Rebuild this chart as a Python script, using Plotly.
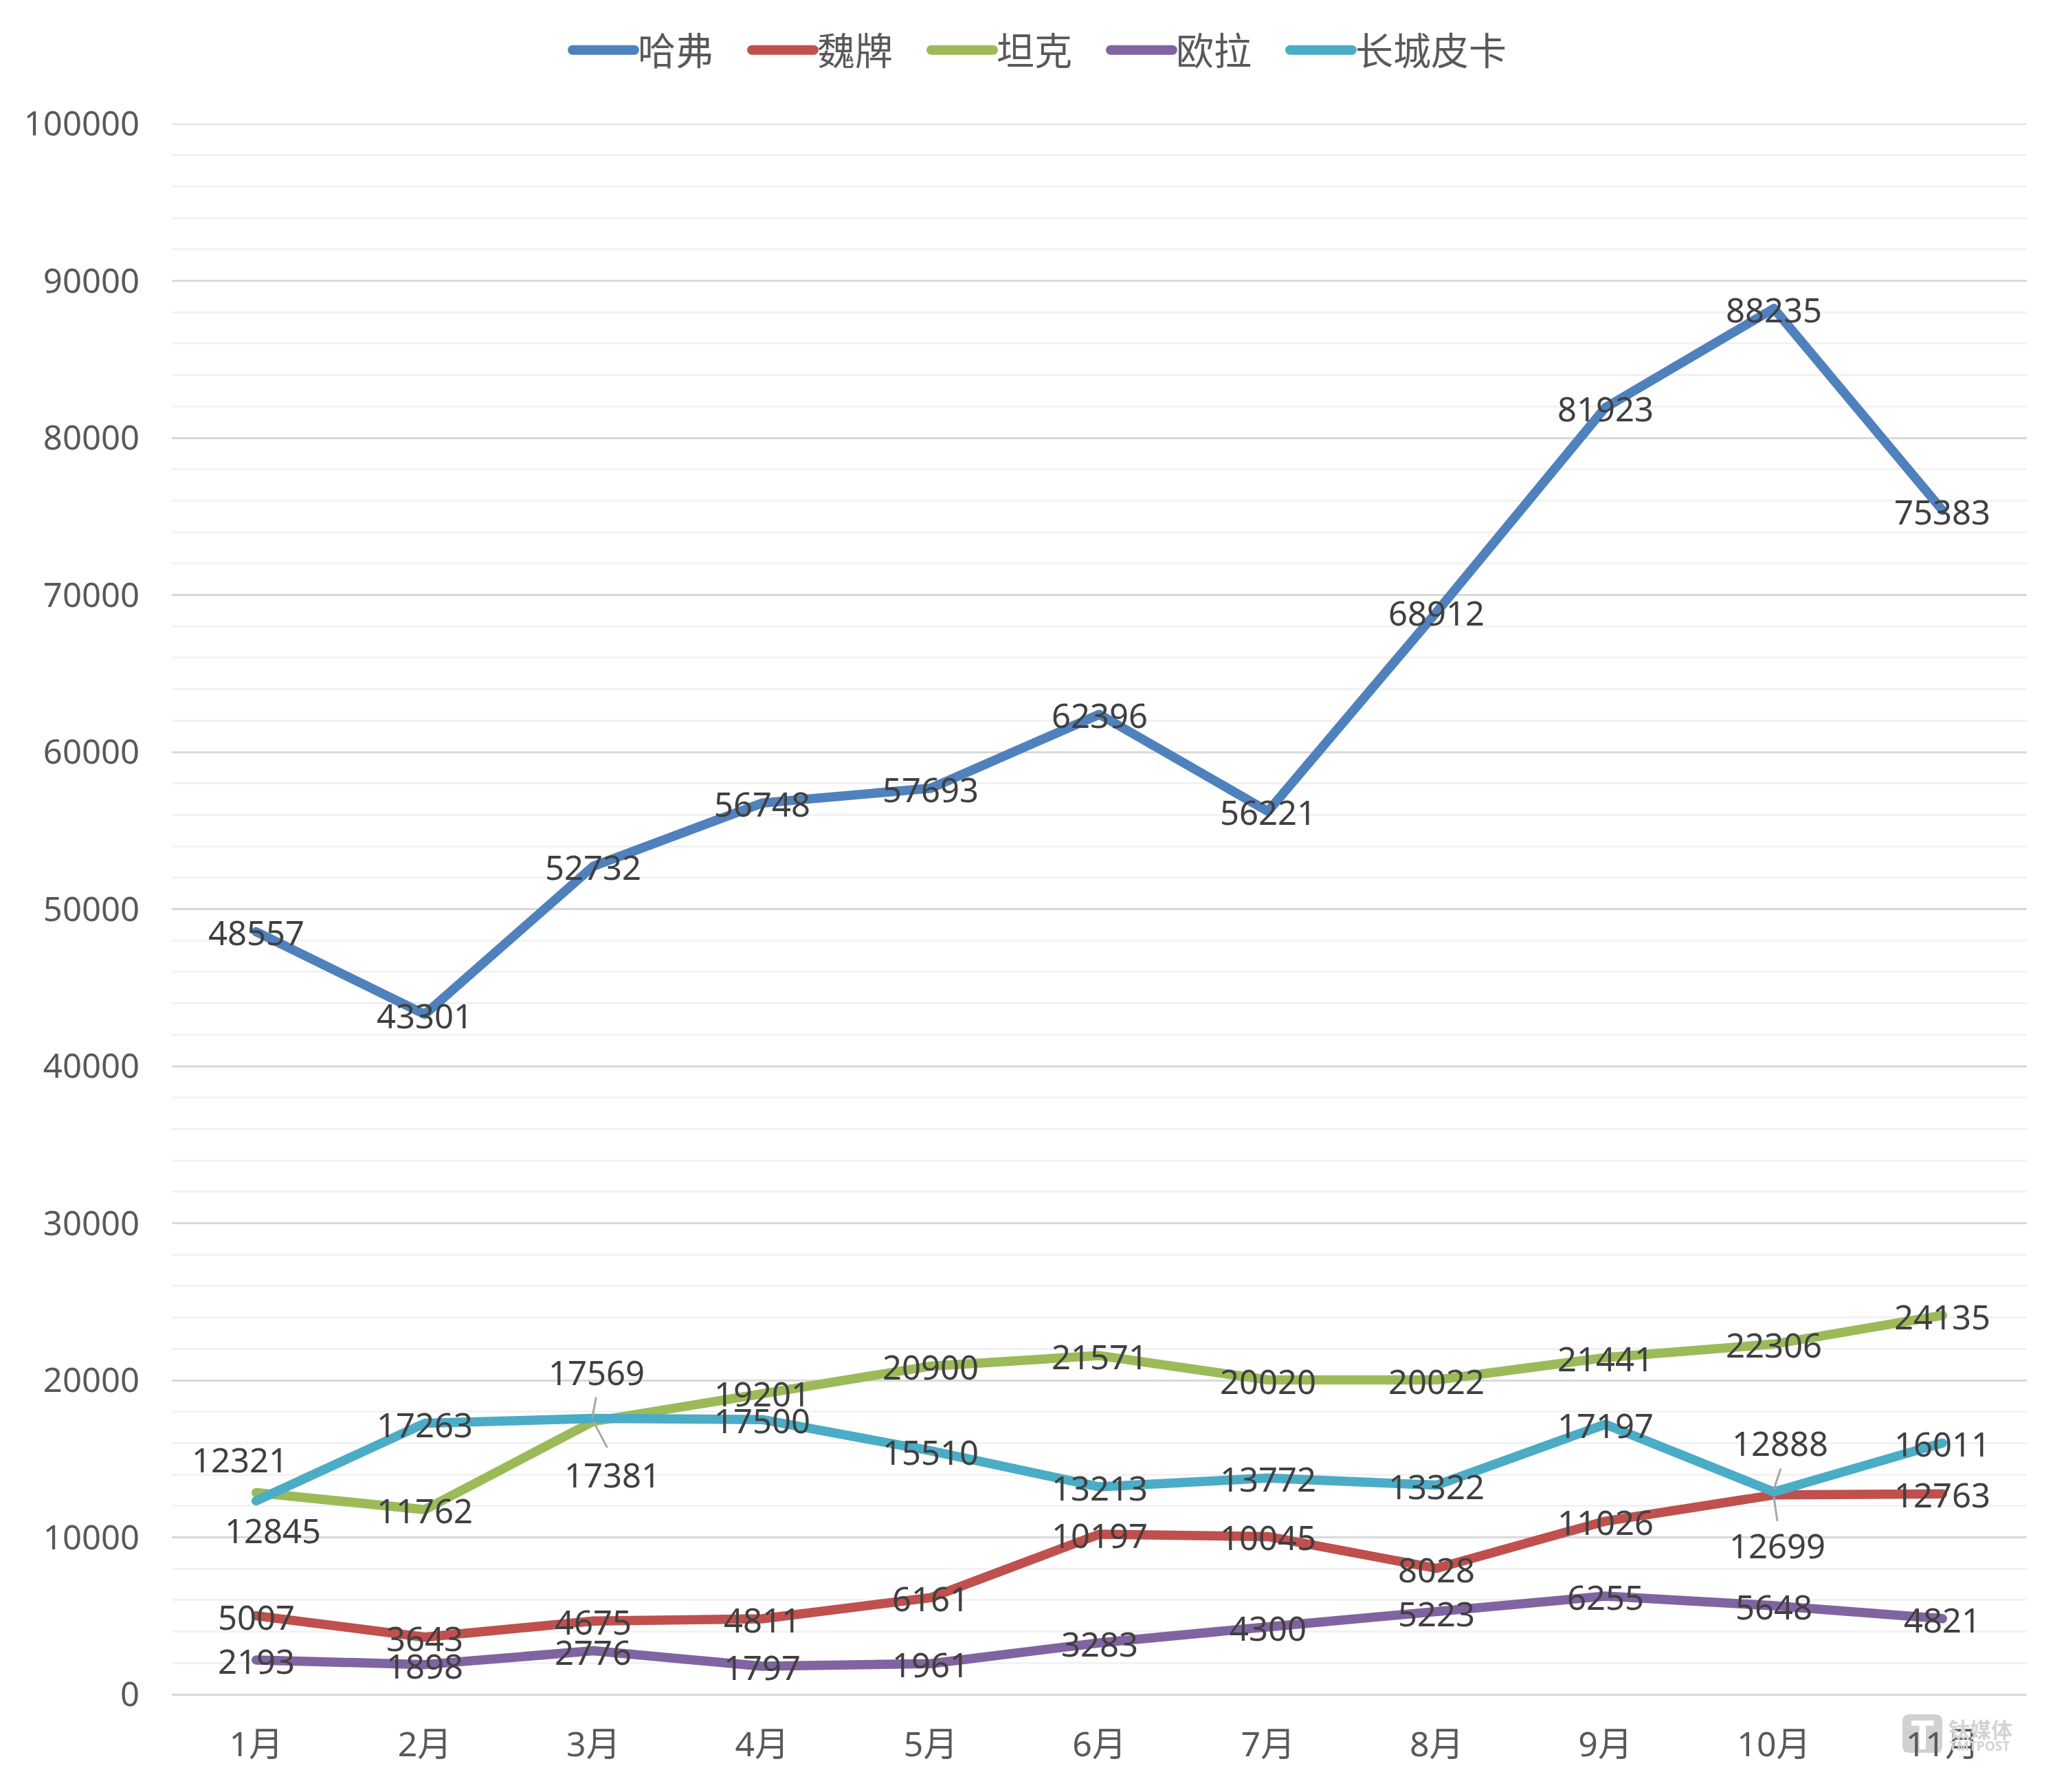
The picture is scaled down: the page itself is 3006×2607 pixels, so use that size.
import plotly.graph_objects as go

months = ["1月", "2月", "3月", "4月", "5月", "6月", "7月", "8月", "9月", "10月", "11月"]
haval = [48557, 43301, 52732, 56748, 57693, 62396, 56221, 68912, 81923, 88235, 75383]
wey = [5007, 3643, 4675, 4811, 6161, 10197, 10045, 8028, 11026, 12699, 12763]
tank = [12845, 11762, 17381, 19201, 20900, 21571, 20020, 20022, 21441, 22306, 24135]
ora = [2193, 1898, 2776, 1797, 1961, 3283, 4300, 5223, 6255, 5648, 4821]
pickup = [12321, 17263, 17569, 17500, 15510, 13213, 13772, 13322, 17197, 12888, 16011]

series_names = ["哈弗", "魏牌", "坦克", "欧拉", "长城皮卡"]
series_values = [haval, wey, tank, ora, pickup]
series_colors = ["#4F81BD", "#C0504D", "#9BBB59", "#8064A2", "#4BACC6"]

y_ticks = list(range(0, 100001, 10000))

FONT = "Noto Sans, Noto Sans CJK SC, sans-serif"
W, H = 3006, 2607
L, R, T, B = 250, 2949, 180, 2465
PAGE = 8  # the page's own body margin

# label displacements (px) for labels pulled off their point: (series, month index) -> dx, dy
label_moves = {
    (4, 0): (-24, -60),
    (2, 0): (24, 55),
    (4, 2): (5, -68),
    (2, 2): (28, 77),
    (4, 9): (9, -72),
    (1, 9): (5, 73),
}
# leader lines for some of the moved labels: start and end, px from the point
leaders = {
    (4, 2): ((-2, 0), (4, 31)),
    (2, 2): ((0, 0), (20, -38)),
    (4, 9): ((0, 4), (10, 34)),
    (1, 9): ((0, -3), (5, -38)),
}

fig = go.Figure()
for name, values, color in zip(series_names, series_values, series_colors):
    fig.add_trace(go.Scatter(
        x=months, y=values, name=name, mode="lines",
        line=dict(color=color, width=13.5),
        hoverinfo="skip",
    ))

annotations = []
for s, values in enumerate(series_values):
    for i, v in enumerate(values):
        dx, dy = label_moves.get((s, i), (0, 1))
        annotations.append(dict(
            x=months[i], y=v, xref="x", yref="y", text=str(v), showarrow=False,
            xanchor="center", yanchor="middle", xshift=dx, yshift=-dy,
            font=dict(family=FONT, size=49, color="#404040"),
        ))

shapes = [dict(
    type="line", xref="paper", yref="y", x0=0, x1=1, y0=y_ticks[-1], y1=y_ticks[-1],
    line=dict(color="#D9D9D9", width=3), layer="below",
)]
for (s, i), ((x0, y0), (x1, y1)) in leaders.items():
    shapes.append(dict(
        type="line", xref="x", yref="y", xsizemode="pixel", ysizemode="pixel",
        xanchor=months[i], yanchor=series_values[s][i],
        x0=x0, x1=x1, y0=y0, y1=y1,
        line=dict(color="#A6A6A6", width=3), layer="above",
    ))

# watermark, placed in paper fractions of the plot area
def fx(v):
    return (v - L) / (R - L)
def fy(v):
    return (B - v) / (B - T)

lx0, lx1, ly0, ly1, rad = 2768, 2826, 2494, 2550, 10
logo_path = (
    f"M {fx(lx0 + rad)} {fy(ly0)} L {fx(lx1 - rad)} {fy(ly0)} "
    f"Q {fx(lx1)} {fy(ly0)} {fx(lx1)} {fy(ly0 + rad)} L {fx(lx1)} {fy(ly1 - rad)} "
    f"Q {fx(lx1)} {fy(ly1)} {fx(lx1 - rad)} {fy(ly1)} L {fx(lx0 + rad)} {fy(ly1)} "
    f"Q {fx(lx0)} {fy(ly1)} {fx(lx0)} {fy(ly1 - rad)} L {fx(lx0)} {fy(ly0 + rad)} "
    f"Q {fx(lx0)} {fy(ly0)} {fx(lx0 + rad)} {fy(ly0)} Z"
)
shapes.append(dict(type="path", xref="paper", yref="paper", layer="below",
                   path=logo_path, fillcolor="#D0D1D0", line=dict(width=0)))
wm_annotations = [
    dict(x=fx(2797), y=fy(2522), xref="paper", yref="paper",
         text="<b>T</b>", showarrow=False, xanchor="center", yanchor="middle",
         font=dict(family=FONT, size=60, color="#FFFFFF")),
    dict(x=fx(2881), y=fy(2515), xref="paper", yref="paper",
         text="<b>钛媒体</b>", showarrow=False, xanchor="center", yanchor="middle",
         font=dict(family="Noto Sans CJK SC", size=31, color="#D4D4D4")),
    dict(x=fx(2880), y=fy(2540), xref="paper", yref="paper",
         text="<b>TMTPOST</b>", showarrow=False, xanchor="center", yanchor="middle",
         font=dict(family=FONT, size=19, color="#D4D4D4")),
]
annotations += wm_annotations

fig.update_layout(
    width=W, height=H, autosize=False,
    paper_bgcolor="white", plot_bgcolor="white",
    margin=dict(l=L - PAGE, r=W + PAGE - R, t=T - PAGE, b=H + PAGE - B, pad=0),
    font=dict(family=FONT, size=48, color="#595959"),
    legend=dict(
        orientation="h", x=fx(828), xanchor="left",
        y=fy(73), yanchor="middle",
        font=dict(family="Noto Sans CJK SC", size=55, color="#595959"),
        itemwidth=90, bgcolor="rgba(0,0,0,0)",
        entrywidth=156, entrywidthmode="pixels",
    ),
    hovermode=False,
    annotations=annotations, shapes=shapes,
    xaxis=dict(
        type="category", categoryorder="array", categoryarray=months,
        range=[-0.5, 10.5],
        showgrid=False, zeroline=False, showline=False, ticks="",
        ticklabelstandoff=39,
        tickfont=dict(family=FONT, size=50, color="#595959"),
    ),
    yaxis=dict(
        range=[0, 100000], tickvals=y_ticks, ticktext=[str(v) for v in y_ticks],
        showgrid=True, gridcolor="#D9D9D9", gridwidth=3,
        zeroline=True, zerolinecolor="#D9D9D9", zerolinewidth=3,
        showline=False, ticks="", ticklabelstandoff=46,
        minor=dict(dtick=2000, showgrid=True, gridcolor="#F2F2F2", gridwidth=3, ticks=""),
        tickfont=dict(family=FONT, size=49, color="#595959"),
    ),
)

post = """
document.querySelectorAll('.js-line').forEach(function(p){
  p.style.strokeLinecap='round'; p.style.strokeLinejoin='round';
});
document.querySelectorAll('.legend .js-line').forEach(function(p){
  p.style.strokeWidth='14px';
});
document.querySelectorAll('.legend .scrollbox').forEach(function(b){
  b.removeAttribute('clip-path');
});
"""
fig.write_html("out.html", post_script=post, config={"displayModeBar": False})
